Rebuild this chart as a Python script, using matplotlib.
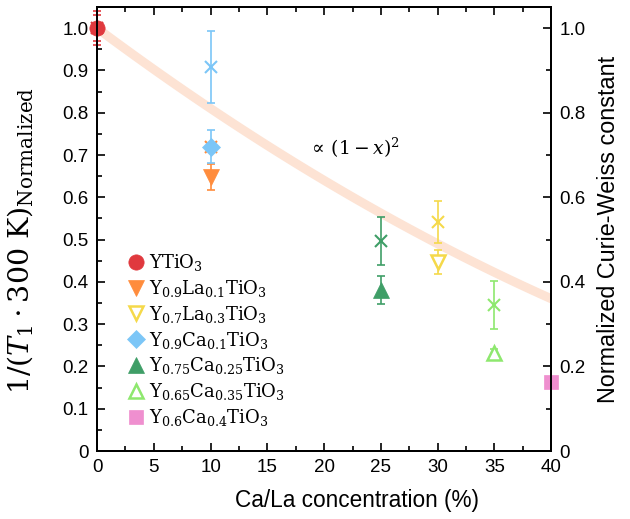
"""Relaxation rate and Curie-Weiss constant vs Ca/La doping in YTiO3."""

import matplotlib
matplotlib.use("Agg")
import matplotlib.pyplot as plt
import numpy as np
from matplotlib.ticker import MultipleLocator

plt.rcParams["font.family"] = ["Liberation Sans", "DejaVu Sans"]
plt.rcParams["mathtext.fontset"] = "dejavuserif"

# samples
labels = [
    r"$\mathrm{YTiO_3}$",
    r"$\mathrm{Y_{0.9}La_{0.1}TiO_3}$",
    r"$\mathrm{Y_{0.7}La_{0.3}TiO_3}$",
    r"$\mathrm{Y_{0.9}Ca_{0.1}TiO_3}$",
    r"$\mathrm{Y_{0.75}Ca_{0.25}TiO_3}$",
    r"$\mathrm{Y_{0.65}Ca_{0.35}TiO_3}$",
    r"$\mathrm{Y_{0.6}Ca_{0.4}TiO_3}$",
]
conc = [0, 10, 30, 10, 25, 35, 40]
colors = ["#e0393e", "#ff8c3c", "#f5d94a", "#7cc6f7", "#3f9e67", "#8ee86e", "#ef8fcf"]
markers = ["o", "v", "v", "D", "^", "^", "s"]
filled = [True, True, False, True, True, False, True]
msizes = [11, 11, 10, 9, 11, 10, 10]

# 1/(T1*300K), normalized
t1_val = [1.0, 0.648, 0.447, 0.720, 0.381, 0.231, 0.163]
t1_err = [0.03, 0.03, 0.028, 0.038, 0.034, 0.01, 0.0]

# normalized Curie-Weiss constant (x markers)
cw_val = [1.0, 0.719, 0.541, 0.908, 0.497, 0.345, np.nan]
cw_err = [0.04, 0.0, 0.05, 0.086, 0.057, 0.057, 0.0]

fig = plt.figure(figsize=(6.3, 5.19), dpi=100)
ax = fig.add_axes([0.154, 0.131, 0.721, 0.8555])

# (1 - x)^2 guide
xs = np.linspace(0, 40, 100)
ax.plot(xs, (1 - xs / 100) ** 2, color="#fde3d4", lw=6.5, solid_capstyle="round", zorder=1)
ax.text(18.6, 0.716, r"$\propto\,(1-x)^2$", fontsize=13.5, ha="left", va="center")

for i in range(len(labels)):
    c = colors[i]
    if cw_err[i] > 0:
        ax.errorbar(conc[i], cw_val[i], yerr=cw_err[i], fmt="none", ecolor=c,
                    elinewidth=1.2, capsize=2.8, capthick=1.2, zorder=3, clip_on=False)
    if not np.isnan(cw_val[i]):
        ax.plot(conc[i], cw_val[i], marker="x", ms=9, mew=1.5, color=c,
                linestyle="none", zorder=4, clip_on=False)
    if t1_err[i] > 0:
        ax.errorbar(conc[i], t1_val[i], yerr=t1_err[i], fmt="none", ecolor=c,
                    elinewidth=1.2, capsize=2.8, capthick=1.2, zorder=3, clip_on=False)
    ax.plot(conc[i], t1_val[i], marker=markers[i], ms=msizes[i], color=c,
            mfc=c if filled[i] else "white", mec=c, mew=1.8 if not filled[i] else 0.5,
            linestyle="none", label=labels[i], zorder=5, clip_on=False)

ax.set_xlim(0, 40)
ax.set_ylim(0, 1.05)
ax.xaxis.set_major_locator(MultipleLocator(5))
ax.xaxis.set_minor_locator(MultipleLocator(2.5))
yt = np.round(np.arange(0, 1.01, 0.1), 1)
ax.set_yticks(yt, ["0"] + [f"{v:.1f}" for v in yt[1:]])
ax.yaxis.set_minor_locator(MultipleLocator(0.05))
ax.tick_params(which="both", direction="in", top=True, right=False, labelsize=13.5, width=1.2)
ax.tick_params(which="major", length=6, pad=6)
ax.tick_params(which="minor", length=3.5)
for s in ax.spines.values():
    s.set_linewidth(1.4)

ax.set_xlabel("Ca/La concentration (%)", fontsize=16.3)
ax.xaxis.set_label_coords(0.573, -0.085)
ax.set_ylabel(r"$1/(T_1\cdot 300\ \mathrm{K})_{\mathrm{Normalized}}$", fontsize=20.5)
ax.yaxis.set_label_coords(-0.136, 0.475)

ax2 = ax.twinx()
ax2.set_ylim(0, 1.05)
rt = np.round(np.arange(0, 1.01, 0.2), 1)
ax2.set_yticks(rt, ["0"] + [f"{v:.1f}" for v in rt[1:]])
ax2.yaxis.set_minor_locator(MultipleLocator(0.1))
ax2.tick_params(which="both", direction="in", labelsize=13.5, width=1.2)
ax2.tick_params(which="major", length=6, pad=6)
ax2.tick_params(which="minor", length=3.5)
ax2.set_ylabel("Normalized Curie-Weiss constant", fontsize=16.8, labelpad=8)
for s in ax2.spines.values():
    s.set_linewidth(1.4)

ax.legend(loc="lower left", bbox_to_anchor=(0.045, 0.035), frameon=False,
          fontsize=13, handletextpad=0.15, labelspacing=0.27, handlelength=1.2,
          borderaxespad=0)

fig.savefig("out.png", dpi=100)
